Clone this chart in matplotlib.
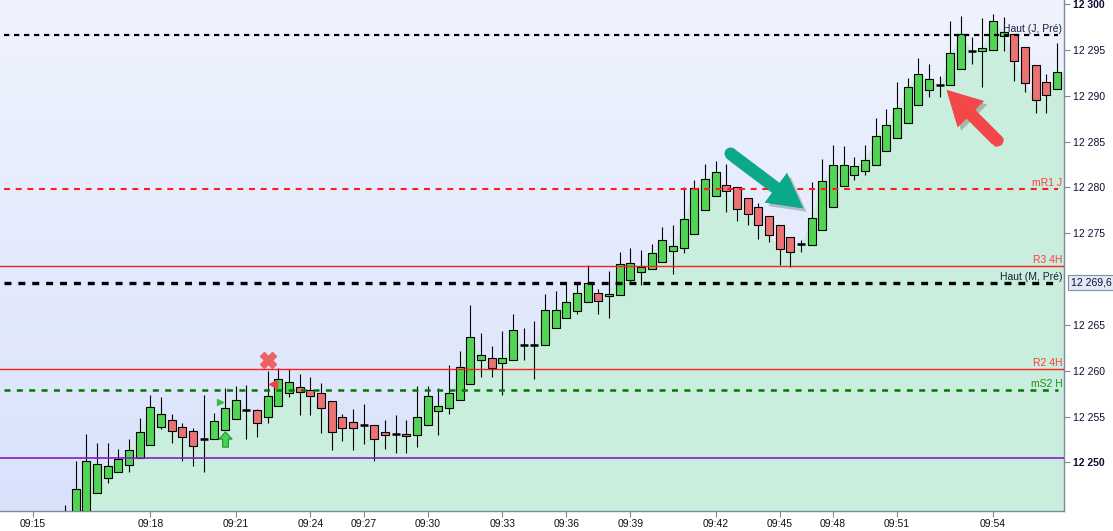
import numpy as np
import matplotlib.pyplot as plt
import matplotlib.transforms as mtransforms
import matplotlib.patheffects as pe
from matplotlib.colors import LinearSegmentedColormap
from matplotlib.path import Path

plt.rcParams['font.family'] = ['Liberation Sans', 'DejaVu Sans']
plt.rcParams['lines.scale_dashes'] = False

# candles, one per bar position (index 0 is the first bar partly visible at bottom-left)
opens = [12243.5, 12243.0, 12244.0, 12246.7, 12248.25, 12248.9, 12249.7, 12250.5, 12251.9, 12253.9,
         12254.6, 12253.9, 12253.4, 12252.5, 12252.5, 12253.5, 12254.7, 12255.7, 12255.7, 12255.0,
         12256.1, 12257.6, 12258.2, 12257.9, 12257.6, 12256.7, 12255.0, 12254.4, 12254.05, 12254.05,
         12253.3, 12253.1, 12253.1, 12252.95, 12254.05, 12255.6, 12255.9, 12256.8, 12258.55, 12261.2,
         12261.4, 12260.8, 12261.2, 12262.8, 12262.8, 12262.8, 12264.7, 12265.7, 12266.5, 12267.5,
         12268.5, 12268.1, 12268.3, 12269.9, 12270.8, 12271.1, 12271.9, 12273.1, 12273.4, 12274.95,
         12277.5, 12279.1, 12280.3, 12280.0, 12278.8, 12277.9, 12276.9, 12275.95, 12274.6, 12273.8,
         12273.75, 12275.3, 12277.9, 12280.2, 12281.3, 12281.75, 12282.4, 12283.95, 12285.4, 12287.0,
         12289.0, 12290.6, 12291.2, 12291.2, 12292.9, 12294.9, 12294.9, 12295.0, 12296.5, 12296.75,
         12295.3, 12293.4, 12291.5, 12290.7]
highs = [12245.3, 12250.2, 12253.1, 12252.1, 12252.1, 12251.5, 12252.6, 12254.8, 12257.3, 12257.1,
         12255.3, 12254.3, 12253.8, 12257.3, 12255.4, 12258.1, 12258.3, 12258.4, 12255.8, 12260.0,
         12260.3, 12260.2, 12259.6, 12259.3, 12258.65, 12256.7, 12255.3, 12255.8, 12256.4, 12254.05,
         12254.6, 12255.15, 12254.6, 12258.3, 12258.3, 12258.1, 12260.6, 12262.2, 12267.2, 12264.1,
         12262.7, 12264.3, 12266.2, 12264.7, 12265.4, 12268.4, 12268.7, 12269.7, 12269.7, 12271.5,
         12268.9, 12270.9, 12273.0, 12273.4, 12273.2, 12273.8, 12275.7, 12275.95, 12280.0, 12280.8,
         12282.5, 12282.85, 12282.5, 12280.0, 12278.8, 12278.25, 12276.9, 12275.95, 12274.6, 12274.3,
         12280.55, 12283.1, 12284.6, 12284.5, 12283.3, 12284.6, 12287.6, 12288.5, 12291.5, 12291.9,
         12294.1, 12293.5, 12292.2, 12298.2, 12298.7, 12296.4, 12298.5, 12298.9, 12298.6, 12296.75,
         12295.3, 12293.4, 12292.4, 12295.7]
lows = [12242.5, 12242.5, 12243.5, 12246.7, 12247.7, 12248.9, 12249.0, 12250.5, 12251.9, 12253.6,
        12252.1, 12250.1, 12249.6, 12249.0, 12252.5, 12253.5, 12254.7, 12252.6, 12252.8, 12254.3,
        12256.1, 12257.1, 12255.2, 12255.2, 12253.2, 12251.3, 12252.3, 12251.3, 12252.0, 12250.1,
        12251.5, 12251.05, 12251.05, 12251.7, 12254.05, 12253.0, 12255.25, 12256.8, 12258.55, 12259.3,
        12259.3, 12257.3, 12261.2, 12261.2, 12259.1, 12262.8, 12264.7, 12265.7, 12266.2, 12267.5,
        12266.2, 12265.7, 12268.3, 12269.7, 12269.4, 12271.1, 12271.9, 12270.5, 12272.8, 12274.95,
        12277.5, 12279.1, 12277.3, 12276.3, 12275.95, 12274.4, 12274.0, 12271.5, 12271.35, 12272.95,
        12273.75, 12275.3, 12277.9, 12280.2, 12280.8, 12281.3, 12282.4, 12283.95, 12285.4, 12287.0,
        12289.0, 12289.9, 12289.9, 12291.2, 12292.9, 12293.5, 12290.95, 12295.0, 12294.9, 12291.6,
        12290.4, 12288.1, 12288.1, 12290.7]
closes = [12244.0, 12247.1, 12250.2, 12249.8, 12249.6, 12250.4, 12251.4, 12253.3, 12256.0, 12255.3,
          12253.4, 12252.8, 12251.75, 12252.5, 12254.5, 12255.9, 12256.8, 12255.7, 12254.3, 12257.2,
          12259.1, 12258.8, 12257.7, 12257.2, 12255.9, 12253.3, 12253.7, 12253.7, 12254.05, 12252.6,
          12252.95, 12253.1, 12252.85, 12255.0, 12257.2, 12256.1, 12257.6, 12260.4, 12263.7, 12261.7,
          12260.3, 12261.4, 12264.45, 12262.8, 12262.8, 12266.65, 12266.65, 12267.5, 12268.5, 12269.6,
          12267.6, 12268.4, 12271.6, 12271.8, 12271.35, 12272.8, 12274.3, 12273.65, 12276.5, 12279.9,
          12280.9, 12281.65, 12279.6, 12277.6, 12277.05, 12275.95, 12274.85, 12273.3, 12272.95, 12273.8,
          12276.7, 12280.7, 12282.4, 12282.4, 12282.3, 12282.95, 12285.6, 12286.8, 12288.65, 12290.95,
          12292.4, 12291.8, 12291.2, 12294.7, 12296.75, 12294.9, 12295.2, 12298.1, 12297.0, 12293.8,
          12291.4, 12289.5, 12290.1, 12292.6]

time_ticks = [-3, 8, 16, 23, 28, 34, 41, 47, 53, 61, 67, 72, 78, 87]
time_labels = ['09:15', '09:18', '09:21', '09:24', '09:27', '09:30', '09:33',
               '09:36', '09:39', '09:42', '09:45', '09:48', '09:51', '09:54']

price_ticks = [12250, 12255, 12260, 12265, 12275, 12280, 12285, 12290, 12295, 12300]
price_labels = ['12 250', '12 255', '12 260', '12 265', '12 275', '12 280',
                '12 285', '12 290', '12 295', '12 300']

level_names = ['Haut (J, Pré)', 'mR1 J', 'R3 4H', 'Haut (M, Pré)', 'R2 4H', 'mS2 H', '']
level_values = [12296.57, 12279.82, 12271.39, 12269.6, 12260.15, 12257.9, 12250.45]
level_colors = ['#000000', '#ff1e1e', '#ff1e1e', '#000000', '#ff1e1e', '#007a00', '#8a1ad0']
level_text_colors = ['#1c1c3c', '#ff3a3a', '#ff3a3a', '#1c1c3c', '#ff3a3a', '#1e8c1e', '#8a1ad0']
level_widths = [1.6, 1.5, 1.0, 2.4, 1.0, 1.8, 1.2]
level_dashes = [(3.8, 3.4), (4.3, 4.1), None, (5.0, 5.0), None, (4.3, 4.6), None]

# signals drawn on the chart
signal_x = [19, 14.5, 19.5]
signal_y = [12261.17, 12256.55, 12258.52]
signal_markers = ['X', '>', '<']
signal_colors = ['#ef6262', '#35c23c', '#ee4444']
signal_sizes = [11, 5, 6]
buy_x = [15]
buy_y = [12252.52]

arrow_tails = [(62.34, 12283.72), (87.34, 12285.17)]
arrow_tips = [(69.2, 12277.72), (82.66, 12290.62)]
arrow_colors = ['#0aa98c', '#f44848']

idx = np.arange(len(opens))
o = np.array(opens)
h = np.array(highs)
l = np.array(lows)
c = np.array(closes)

fig = plt.figure(figsize=(11.13, 5.31), dpi=100)
ax = fig.add_axes([0, 0.0377, 0.956, 0.9623])
xmin, xmax = -6.09, 93.66
ymin, ymax = 12244.7, 12300.44

bg = LinearSegmentedColormap.from_list('bg', ['#d9e2fb', '#eff3fe'])
ax.imshow(np.linspace(0, 1, 256).reshape(-1, 1), cmap=bg, extent=(0, 1, 0, 1),
          transform=ax.transAxes, aspect='auto', origin='lower', zorder=0)

# area under the closes
fx = list(idx[2:]) + [xmax]
fc = list(c[2:]) + [c[-1]]
ax.fill_between(fx, fc, ymin, color='#c9eedd', lw=0, zorder=1)

# candles
w = 0.76
ax.vlines(idx, l, h, color='black', lw=0.8, zorder=3)
up = c > o
down = c < o
flat = c == o
ax.bar(idx[up], (c - o)[up], bottom=o[up], width=w, color='#52d455',
       edgecolor='black', linewidth=0.8, zorder=4)
ax.bar(idx[down], (o - c)[down], bottom=c[down], width=w, color='#e97373',
       edgecolor='black', linewidth=0.8, zorder=4)
ax.hlines(c[flat], idx[flat] - w / 2, idx[flat] + w / 2, color='black', lw=1.8, zorder=4)

# levels
blend = mtransforms.blended_transform_factory(ax.transAxes, ax.transData)
for name, val, col, tcol, lw, ds in zip(level_names, level_values, level_colors,
                                         level_text_colors, level_widths, level_dashes):
    if ds is None:
        ax.axhline(val, color=col, lw=lw, zorder=5)
    else:
        ax.axhline(val, xmin=0.004, xmax=0.994, color=col, lw=lw, dashes=ds, zorder=5)
    if name:
        ax.text(0.9985, val + 0.12, name, transform=blend, ha='right', va='bottom',
                fontsize=7.5, color=tcol, zorder=6)

# signals
for x, y, m, col, s in zip(signal_x, signal_y, signal_markers, signal_colors, signal_sizes):
    ax.plot(x, y, marker=m, ms=s, color=col, mec=col, lw=0, zorder=7)

arrow_up = Path([(0, 1), (0.85, 0.05), (0.38, 0.05), (0.38, -1), (-0.38, -1),
                 (-0.38, 0.05), (-0.85, 0.05), (0, 1)],
                [Path.MOVETO] + [Path.LINETO] * 6 + [Path.CLOSEPOLY])
ax.plot(buy_x, buy_y, marker=arrow_up, ms=11, mfc='#48d25a', mec='#169a28', mew=0.8,
        lw=0, zorder=7)

# big annotation arrows
for (tx, ty), (hx, hy), col in zip(arrow_tails, arrow_tips, arrow_colors):
    shadow = [pe.withSimplePatchShadow(offset=(2.5, -2.5), alpha=0.25), pe.Normal()]
    ax.annotate('', xy=(hx, hy), xytext=(tx, ty), zorder=8,
                arrowprops=dict(arrowstyle='simple,head_length=1.75,head_width=1.9,tail_width=0.62',
                                mutation_scale=14, fc=col, ec='none', shrinkA=0, shrinkB=0,
                                path_effects=shadow))
    ax.plot(tx, ty, 'o', ms=8.6, color=col, mec='none', zorder=8)

ax.set_xlim(xmin, xmax)
ax.set_ylim(ymin, ymax)

for s in ['top', 'left']:
    ax.spines[s].set_visible(False)
for s in ['right', 'bottom']:
    ax.spines[s].set_color('#7c8b9a')
    ax.spines[s].set_linewidth(1)

ax.set_xticks(time_ticks, time_labels)
ax.tick_params(axis='x', length=4, width=0.8, color='#7c8b9a', pad=2,
               labelsize=7.5, labelcolor='#111111')
ax.yaxis.tick_right()
ax.set_yticks(price_ticks, price_labels)
ax.tick_params(axis='y', length=4, width=0.8, color='#7c8b9a', pad=2.5,
               labelsize=7.5, labelcolor='#0c0c30')
for lab in ax.get_yticklabels():
    if lab.get_text() in ('12 250', '12 300'):
        lab.set_fontweight('bold')

ax.text(1.0066, level_values[3], '12 269,6', transform=blend, ha='left', va='center',
        fontsize=7.5, color='#0c0c30', clip_on=False,
        bbox=dict(boxstyle='square,pad=0.25', fc='#e4e9f6', ec='#7f8fa6', lw=0.8))

fig.savefig('out.png', dpi=100)
